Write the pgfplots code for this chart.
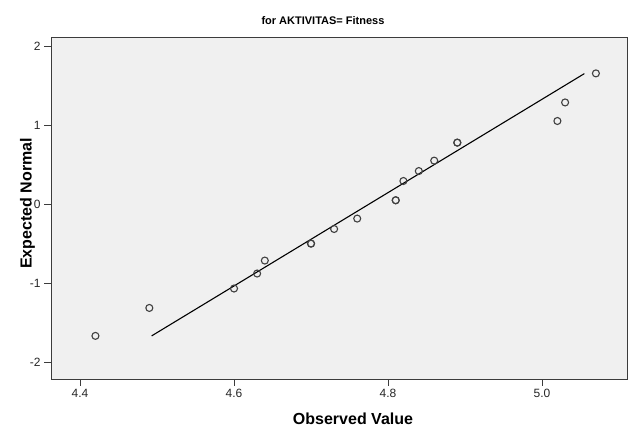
\documentclass[border=0pt]{standalone}
\usepackage{fontspec}
\setmainfont{Liberation Sans}
\usepackage{pgfplots}
\pgfplotsset{compat=1.18}
\definecolor{bg}{HTML}{F0F0F0}
\definecolor{frame}{HTML}{3C3C3C}
\definecolor{mk}{HTML}{404040}
\begin{document}
\begin{tikzpicture}[x=1pt,y=1pt]
\useasboundingbox (0,0) rectangle (635,428);
\begin{axis}[
  at={(51pt,49pt)}, anchor=south west,
  scale only axis, width=576pt, height=342pt,
  xmin=4.3623, xmax=5.1104, ymin=-2.213, ymax=2.119,
  axis background/.style={fill=bg},
  axis line style={frame, line width=0.9pt},
  xtick={4.4,4.6,4.8,5.0}, xticklabels={4.4,4.6,4.8,5.0},
  ytick={-2,-1,0,1,2}, yticklabels={-2,-1,0,1,2},
  tick align=outside, major tick length=7pt,
  tick pos=left,
  tick style={frame, line width=0.9pt},
  tick label style={font=\fontsize{12}{14}\selectfont, text=black!85},
]
\addplot[only marks, mark=o, mark size=3.5pt, mark options={line width=1.1pt, draw=mk}] coordinates {
(4.42,-1.667) (4.49,-1.313) (4.60,-1.067) (4.63,-0.877) (4.64,-0.713)
(4.70,-0.498) (4.70,-0.498) (4.73,-0.313) (4.76,-0.181)
(4.81,0.051) (4.81,0.051) (4.82,0.295) (4.84,0.421) (4.86,0.553)
(4.89,0.781) (4.89,0.781) (5.02,1.055) (5.03,1.290) (5.07,1.658)
};
\addplot[black, line width=1.1pt] coordinates {(4.493,-1.667) (5.055,1.655)};
\end{axis}
\node[anchor=base, font=\bfseries\fontsize{11}{13}\selectfont] at (323,403.3) {for AKTIVITAS= Fitness};
\node[anchor=base, font=\bfseries\fontsize{16}{18}\selectfont] at (353,3) {Observed Value};
\node[anchor=base, rotate=90, font=\bfseries\fontsize{16}{18}\selectfont] at (31.7,224.5) {Expected Normal};
\end{tikzpicture}
\end{document}
